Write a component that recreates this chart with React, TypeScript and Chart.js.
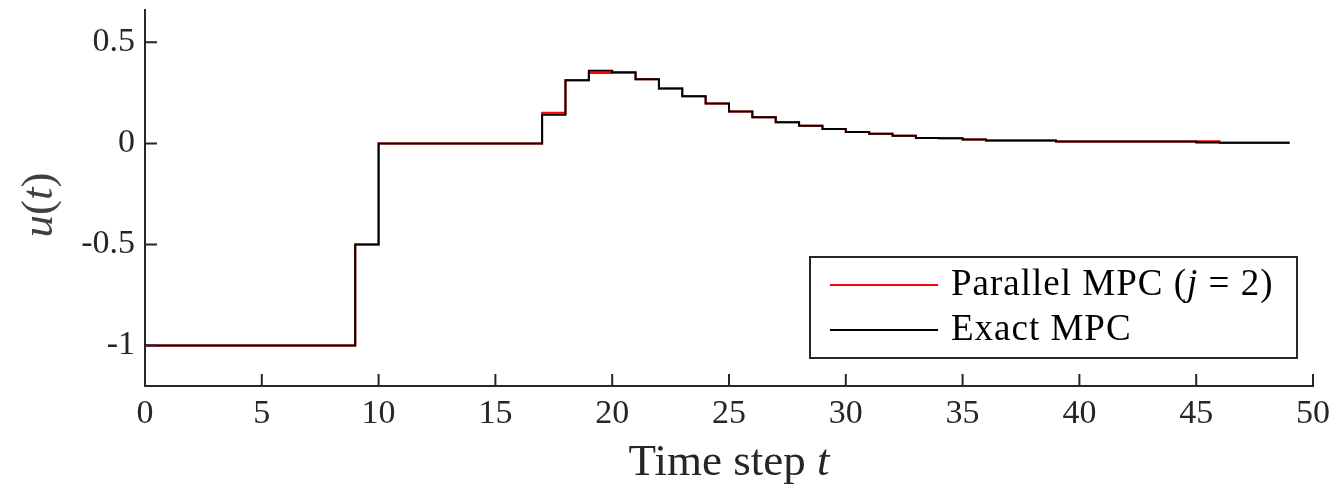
import React, { useEffect, useRef } from "react";
import { Chart, registerables } from "chart.js";

Chart.register(...registerables);

const timeSteps = [
  0, 1, 2, 3, 4, 5, 6, 7, 8, 9, 10, 11, 12, 13, 14, 15, 16, 17, 18, 19, 20, 21, 22, 23, 24,
  25, 26, 27, 28, 29, 30, 31, 32, 33, 34, 35, 36, 37, 38, 39, 40, 41, 42, 43, 44, 45, 46, 47, 48, 49,
];

const parallelMPC = [
  -1, -1, -1, -1, -1, -1, -1, -1, -1, -0.5, 0, 0, 0, 0, 0, 0, 0, 0.152, 0.312, 0.348, 0.35, 0.317,
  0.272, 0.233, 0.197, 0.158, 0.13, 0.105, 0.088, 0.071, 0.056, 0.048, 0.038, 0.027, 0.026, 0.019,
  0.015, 0.015, 0.015, 0.01, 0.01, 0.01, 0.01, 0.01, 0.01, 0.011, 0.003, 0.003, 0.003, 0.003,
];

const exactMPC = [
  -1, -1, -1, -1, -1, -1, -1, -1, -1, -0.5, 0, 0, 0, 0, 0, 0, 0, 0.142, 0.312, 0.36, 0.352, 0.317,
  0.272, 0.233, 0.197, 0.158, 0.13, 0.105, 0.088, 0.071, 0.056, 0.048, 0.038, 0.027, 0.026, 0.019,
  0.015, 0.015, 0.015, 0.01, 0.01, 0.01, 0.01, 0.01, 0.01, 0.004, 0.003, 0.003, 0.003, 0.003,
];

const xTicks = [0, 5, 10, 15, 20, 25, 30, 35, 40, 45, 50];
const yTicks = [-1, -0.5, 0, 0.5];
const yTickLabels = ["-1", "-0.5", "0", "0.5"];
const seriesLabels = ["Parallel MPC (j = 2)", "Exact MPC"];
const seriesColors = ["#ff0000", "#000000"];

const AXIS = "#262626";
const SERIF = '"Liberation Serif", "DejaVu Serif", serif';

type Run = [string, boolean];

function drawRuns(ctx: CanvasRenderingContext2D, runs: Run[], x: number, y: number, size: number, align: "left" | "center") {
  const fontFor = (it: boolean) => `${it ? "italic " : ""}${size}px ${SERIF}`;
  let total = 0;
  for (const [t, it] of runs) {
    ctx.font = fontFor(it);
    total += ctx.measureText(t).width;
  }
  let cx = align === "center" ? x - total / 2 : x;
  ctx.textAlign = "left";
  ctx.textBaseline = "middle";
  for (const [t, it] of runs) {
    ctx.font = fontFor(it);
    ctx.fillText(t, cx, y);
    cx += ctx.measureText(t).width;
  }
}

export default function App() {
  const ref = useRef<HTMLCanvasElement>(null);

  useEffect(() => {
    if (!ref.current) return;

    const decorPlugin = {
      id: "matlabDecor",
      afterDraw(chart: any) {
        const { ctx, chartArea, scales } = chart;
        const xs = scales.x;
        const ys = scales.y;
        ctx.save();
        // inward ticks
        ctx.strokeStyle = AXIS;
        ctx.lineWidth = 2;
        ctx.beginPath();
        for (const v of xTicks) {
          const px = xs.getPixelForValue(v);
          ctx.moveTo(px, chartArea.bottom);
          ctx.lineTo(px, chartArea.bottom - 12);
        }
        for (const v of yTicks) {
          const py = ys.getPixelForValue(v);
          ctx.moveTo(chartArea.left, py);
          ctx.lineTo(chartArea.left + 12, py);
        }
        ctx.stroke();

        // x axis title
        ctx.fillStyle = AXIS;
        drawRuns(ctx, [["Time step ", false], ["t", true]], (chartArea.left + chartArea.right) / 2, chartArea.bottom + 77, 45, "center");

        // y axis title
        ctx.save();
        ctx.translate(40, 205);
        ctx.rotate(-Math.PI / 2);
        ctx.fillStyle = "#404040";
        drawRuns(ctx, [["u", true], ["(", false], ["t", true], [")", false]], 0, 0, 45, "center");
        ctx.restore();

        // legend
        const bx = 810, by = 257, bw = 487, bh = 101;
        ctx.fillStyle = "#ffffff";
        ctx.fillRect(bx, by, bw, bh);
        ctx.strokeStyle = AXIS;
        ctx.lineWidth = 2;
        ctx.strokeRect(bx, by, bw, bh);
        const rows = [285, 330];
        const legendRuns: Run[][] = [
          [["Parallel MPC (", false], ["j", true], [" = 2)", false]],
          [[seriesLabels[1], false]],
        ];
        rows.forEach((ry, i) => {
          ctx.strokeStyle = seriesColors[i];
          ctx.lineWidth = 2;
          ctx.beginPath();
          ctx.moveTo(830, ry);
          ctx.lineTo(938, ry);
          ctx.stroke();
          ctx.fillStyle = "#000000";
          (ctx as any).letterSpacing = "1px";
          drawRuns(ctx, legendRuns[i], 951, ry, 37, "left");
          (ctx as any).letterSpacing = "0px";
        });
        ctx.restore();
      },
    };

    const chart = new Chart(ref.current, {
      type: "line",
      data: {
        datasets: [
          {
            label: seriesLabels[0],
            data: timeSteps.map((t, i) => ({ x: t, y: parallelMPC[i] })),
            borderColor: seriesColors[0],
            borderWidth: 2,
            pointRadius: 0,
            stepped: true,
            fill: false,
            order: 1,
          },
          {
            label: seriesLabels[1],
            data: timeSteps.map((t, i) => ({ x: t, y: exactMPC[i] })),
            borderColor: seriesColors[1],
            borderWidth: 2,
            pointRadius: 0,
            stepped: true,
            fill: false,
            order: 0,
          },
        ],
      },
      options: {
        responsive: false,
        animation: false,
        events: [],
        layout: { padding: { top: 10, right: 22, left: 0, bottom: 0 } },
        plugins: {
          legend: { display: false },
          tooltip: { enabled: false },
          title: { display: false },
        },
        scales: {
          x: {
            type: "linear",
            min: 0,
            max: 50,
            afterFit: (s: any) => {
              s.height = 103;
              s.paddingLeft = 0;
              s.paddingRight = 0;
            },
            afterBuildTicks: (s: any) => {
              s.ticks = xTicks.map((v) => ({ value: v }));
            },
            grid: { display: false, drawTicks: false },
            border: { display: true, color: AXIS, width: 2 },
            ticks: {
              autoSkip: false,
              maxRotation: 0,
              padding: 8,
              color: AXIS,
              font: { family: SERIF, size: 34 },
              callback: (v: any) => String(v),
            },
          },
          y: {
            type: "linear",
            min: -1.2,
            max: 0.66,
            afterFit: (s: any) => {
              s.width = 145;
              s.paddingTop = 0;
              s.paddingBottom = 0;
            },
            afterBuildTicks: (s: any) => {
              s.ticks = yTicks.map((v) => ({ value: v }));
            },
            grid: { display: false, drawTicks: false },
            border: { display: true, color: AXIS, width: 2 },
            ticks: {
              autoSkip: false,
              padding: 10,
              color: AXIS,
              font: { family: SERIF, size: 34 },
              callback: (v: any) => {
                const idx = yTicks.indexOf(Number(v));
                return idx >= 0 ? yTickLabels[idx] : String(v);
              },
            },
          },
        },
      },
      plugins: [decorPlugin],
    });

    return () => chart.destroy();
  }, []);

  return (
    <div style={{ position: "absolute", left: 0, top: 0, width: 1335, height: 489, background: "#ffffff" }}>
      <canvas ref={ref} width={1335} height={489} />
    </div>
  );
}
